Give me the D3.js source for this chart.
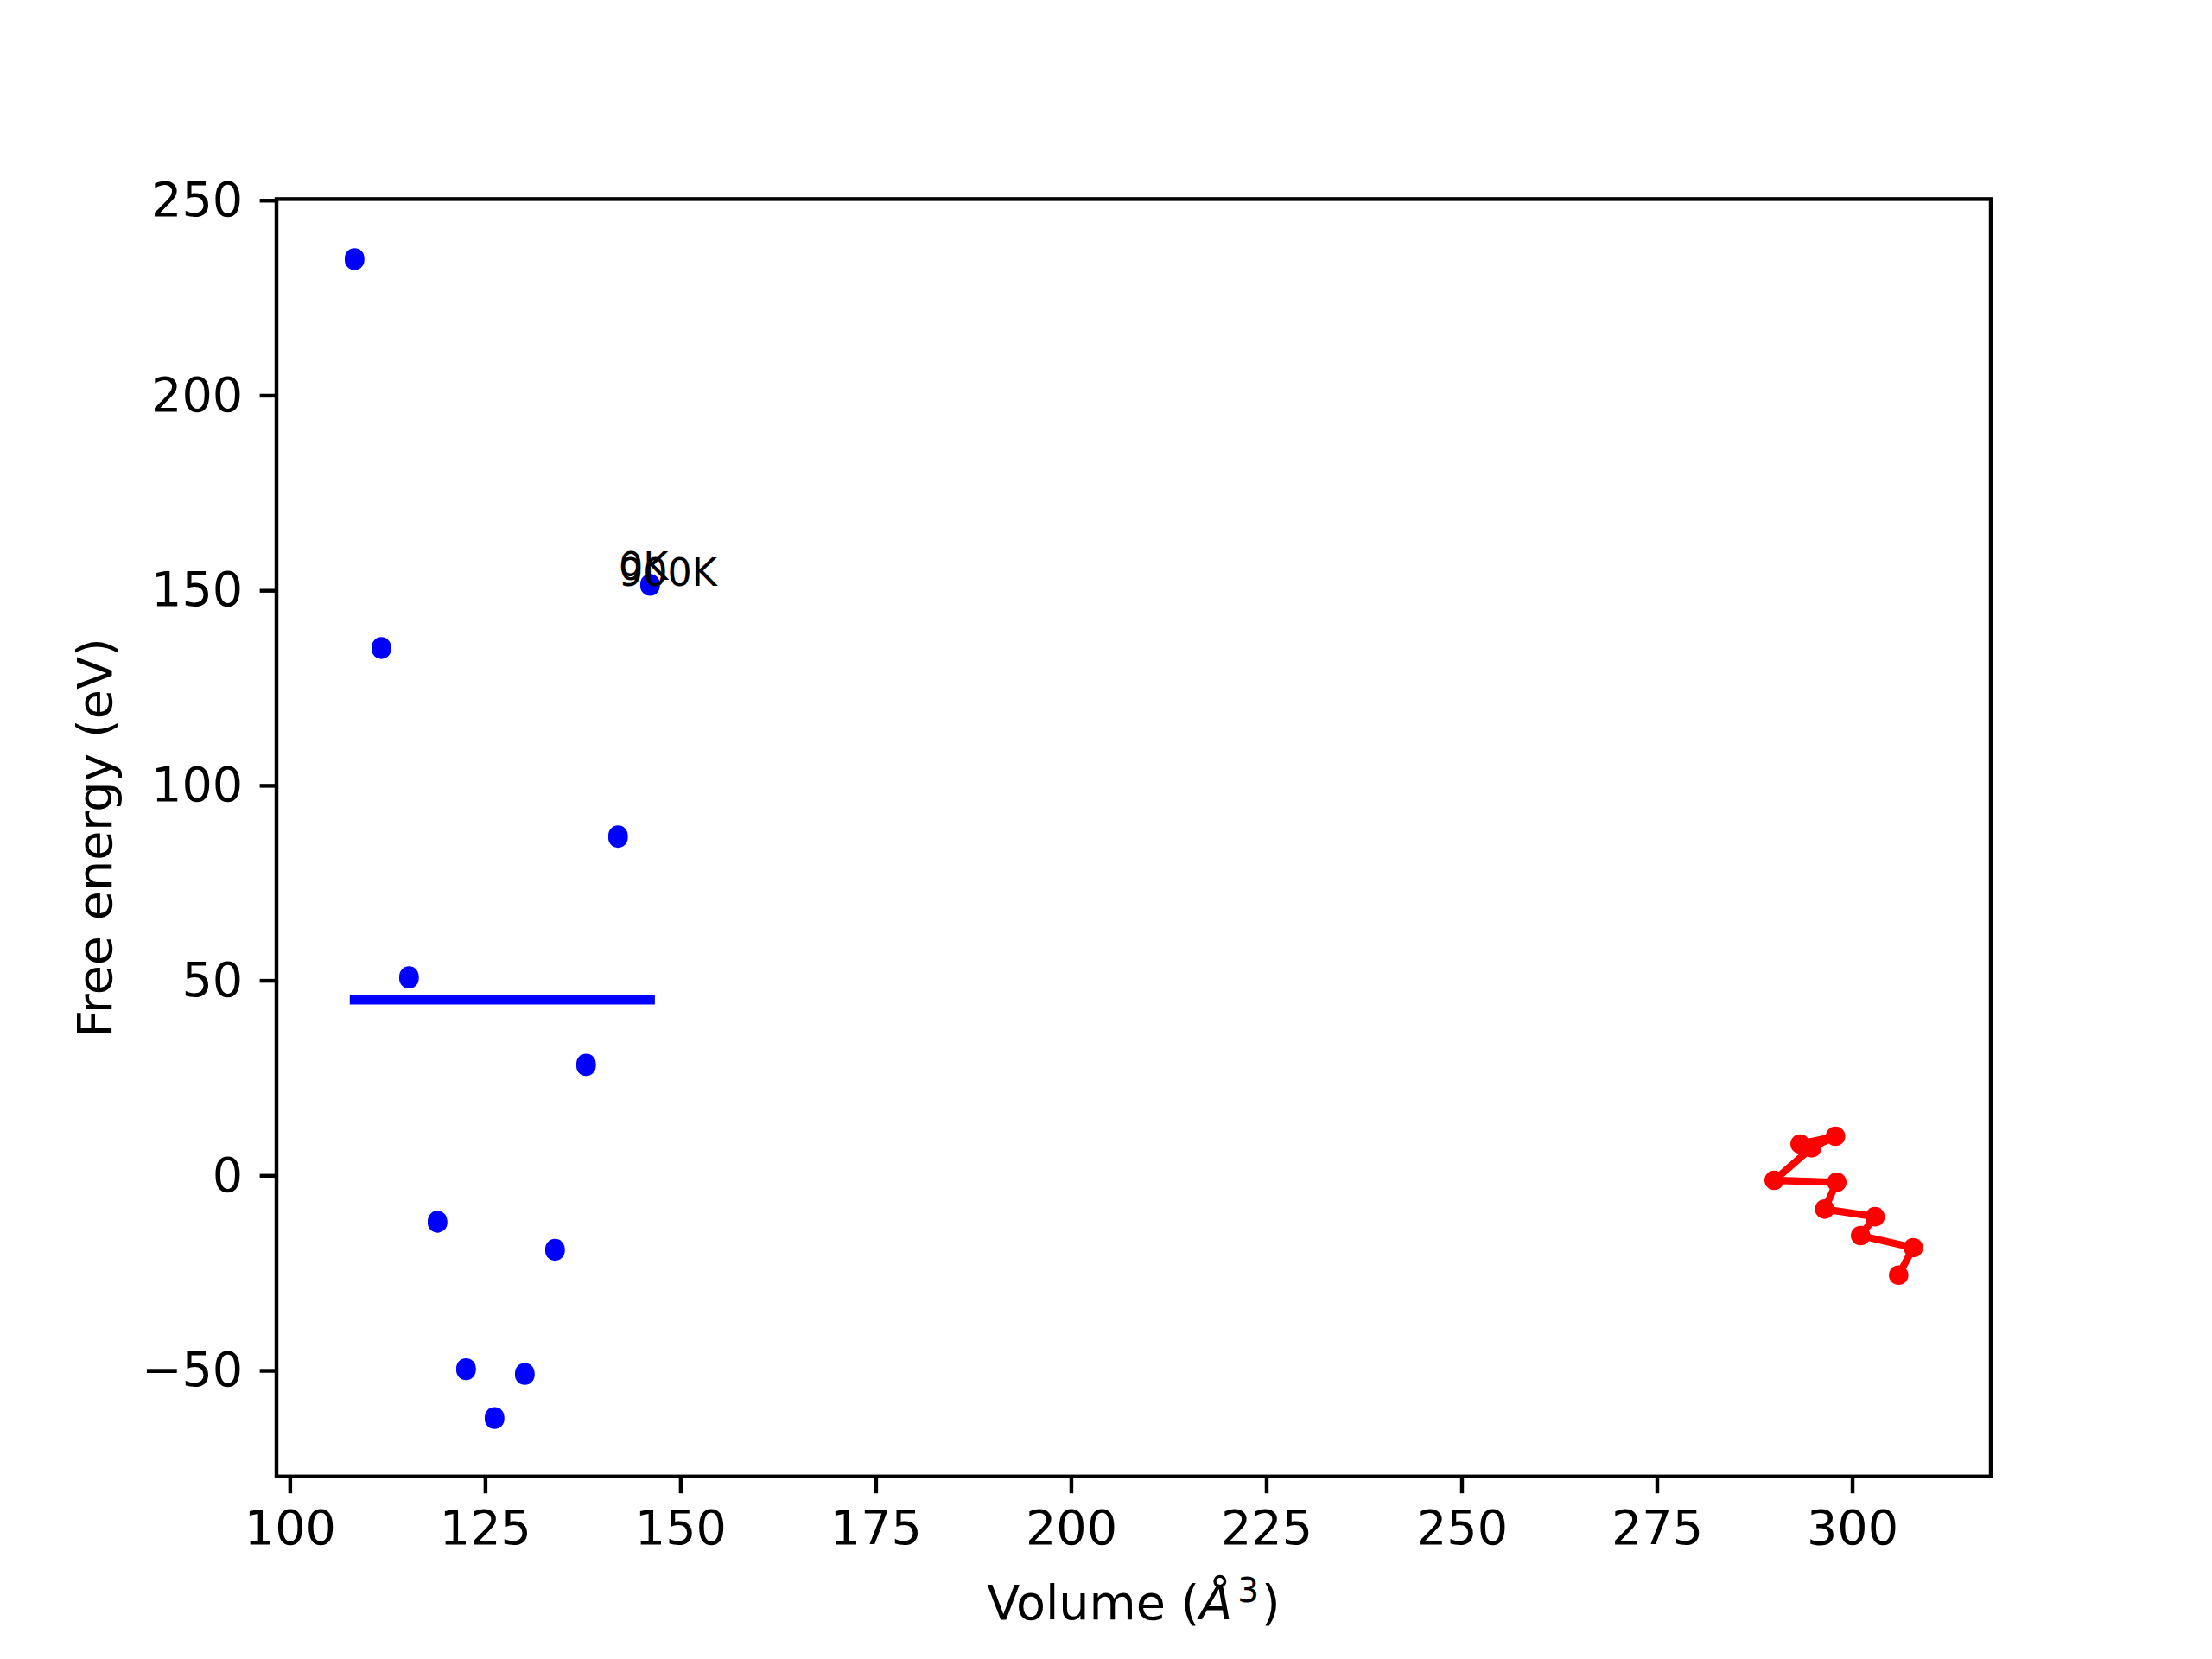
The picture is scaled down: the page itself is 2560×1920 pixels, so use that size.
<!DOCTYPE html>
<html>
<head>
<meta charset="utf-8">
<script src="https://cdn.jsdelivr.net/npm/d3@7"></script>
<style>
  body { margin: 0; background: #fff; }
  text { font-family: "DejaVu Sans", sans-serif; fill: #000; }
</style>
</head>
<body>
<script>
// data
var volumes = [108.29, 111.72, 115.26, 118.91, 122.56, 126.21, 130.08, 133.95, 137.93, 142.02, 146.12];
var energy_0K = [235.2, 135.5, 51.1, -11.6, -49.4, -61.9, -50.6, -18.8, 28.7, 87.2, 151.7];
var energy_900K = [234.6, 134.9, 50.4, -12.2, -50.0, -62.5, -51.2, -19.4, 28.0, 86.5, 151.1];
var min_energy = 45.05;

var red_volumes = [293.34, 297.87, 294.82, 290.02, 298.03, 296.48, 302.93, 301.08, 307.83, 305.95];
var red_energies = [8.03, 10.03, 7.08, -1.27, -1.78, -8.65, -10.6, -15.45, -18.55, -25.57];

var labels = [{text: "900K", x: 142.1, y: 151.1}, {text: "0K", x: 142.1, y: 152.7}];

var xticks = [100, 125, 150, 175, 200, 225, 250, 275, 300];
var yticks = [-50, 0, 50, 100, 150, 200, 250];

// figure layout (matplotlib default 6.4x4.8 in at 400 dpi)
var fig_w = 2560, fig_h = 1920;
var ax_left = 320, ax_right = 2304, ax_top = 230.4, ax_bottom = 1708.8;
var fontsize = 55.6;
var lw = 4.44;

let svg = d3.select("body").append("svg")
    .attr("width", fig_w)
    .attr("height", fig_h);

var x = d3.scaleLinear().domain([98.3, 317.75]).range([ax_left, ax_right]);
var y = d3.scaleLinear().domain([-77.2, 250.3]).range([ax_bottom, ax_top]);

// blue points, two nearly overlapping series
var blue = [];
for(let i = 0; i < volumes.length; ++i)
{
    blue.push([volumes[i], energy_0K[i]]);
    blue.push([volumes[i], energy_900K[i]]);
}

svg.selectAll(".bluedot")
    .data(blue)
    .enter().append("circle")
    .attr("class", "bluedot")
    .attr("cx", function(d) { return x(d[0]); })
    .attr("cy", function(d) { return y(d[1]); })
    .attr("r", 11.3)
    .attr("fill", "#0000ff");

// horizontal line across the blue range
svg.append("line")
    .attr("x1", x(d3.min(volumes)))
    .attr("x2", x(d3.max(volumes)))
    .attr("y1", y(min_energy))
    .attr("y2", y(min_energy))
    .attr("stroke", "#0000ff")
    .attr("stroke-width", 11.1)
    .attr("stroke-linecap", "square");

// red line with dots
var red = red_volumes.map(function(v, i) { return [v, red_energies[i]]; });

svg.append("path")
    .datum(red)
    .attr("d", d3.line().x(function(d) { return x(d[0]); }).y(function(d) { return y(d[1]); }))
    .attr("fill", "none")
    .attr("stroke", "#ff0000")
    .attr("stroke-width", 8.33)
    .attr("stroke-linecap", "square")
    .attr("stroke-linejoin", "round");

svg.selectAll(".reddot")
    .data(red)
    .enter().append("circle")
    .attr("class", "reddot")
    .attr("cx", function(d) { return x(d[0]); })
    .attr("cy", function(d) { return y(d[1]); })
    .attr("r", 11.3)
    .attr("fill", "#ff0000");

// temperature labels
svg.selectAll(".templabel")
    .data(labels)
    .enter().append("text")
    .attr("class", "templabel")
    .attr("x", function(d) { return x(d.x); })
    .attr("y", function(d) { return y(d.y); })
    .attr("font-size", 44.4)
    .text(function(d) { return d.text; });

// axes
var xAxis = d3.axisBottom(x)
    .tickValues(xticks)
    .tickSizeInner(19.4)
    .tickSizeOuter(0)
    .tickPadding(19.4)
    .tickFormat(d3.format("d"));

var yAxis = d3.axisLeft(y)
    .tickValues(yticks)
    .tickSizeInner(19.4)
    .tickSizeOuter(0)
    .tickPadding(19.4)
    .tickFormat(d3.format("d"));

var gx = svg.append("g")
    .attr("transform", "translate(0," + ax_bottom + ")")
    .call(xAxis);

var gy = svg.append("g")
    .attr("transform", "translate(" + ax_left + ",0)")
    .call(yAxis);

[gx, gy].forEach(function(g) {
    g.select(".domain").remove();
    g.selectAll("line").attr("stroke", "#000").attr("stroke-width", lw);
    g.selectAll("text")
        .attr("font-size", fontsize)
        .attr("font-family", "DejaVu Sans")
        .attr("fill", "#000");
});

// frame
svg.append("rect")
    .attr("x", ax_left)
    .attr("y", ax_top)
    .attr("width", ax_right - ax_left)
    .attr("height", ax_bottom - ax_top)
    .attr("fill", "none")
    .attr("stroke", "#000")
    .attr("stroke-width", lw)
    .attr("stroke-linejoin", "miter");

// axis labels
var xlabel = svg.append("text")
    .attr("x", (ax_left + ax_right) / 2)
    .attr("y", 1874)
    .attr("text-anchor", "middle")
    .attr("font-size", fontsize);
xlabel.append("tspan").text("Volume (");
xlabel.append("tspan").attr("font-style", "italic").text("Å");
xlabel.append("tspan").attr("font-size", fontsize * 0.7).attr("dx", 6).attr("dy", -20).text("3");
xlabel.append("tspan").attr("dx", 3).attr("dy", 20).text(")");

svg.append("text")
    .attr("transform", "translate(129," + (ax_top + ax_bottom) / 2 + ") rotate(-90)")
    .attr("text-anchor", "middle")
    .attr("font-size", fontsize)
    .text("Free energy (eV)");
</script>
</body>
</html>
